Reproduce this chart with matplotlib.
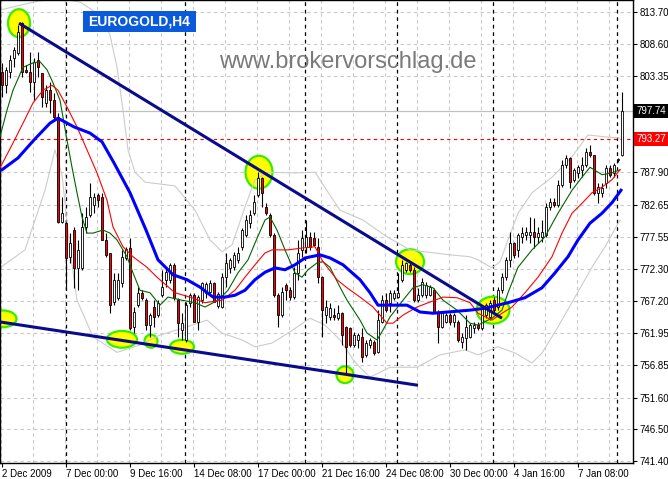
import matplotlib
matplotlib.use('Agg')
import matplotlib.pyplot as plt
from matplotlib.patches import Ellipse, Rectangle
from matplotlib.transforms import blended_transform_factory
import numpy as np

plt.rcParams['font.family'] = ['Liberation Sans', 'DejaVu Sans']

# ---------------- data (EUROGOLD H4 candles) ----------------
opens = [
804.0, 801.9, 804.0, 806.3, 807.1, 811.9, 804.4, 804.0, 802.4, 806.0,
803.9, 799.0, 801.1, 799.5, 796.8, 779.9, 779.7, 774.3, 778.6, 772.5,
772.5, 779.1, 781.0, 782.6, 784.2, 783.9, 777.0, 774.9, 767.0, 767.7,
770.1, 774.1, 775.7, 763.0, 766.5, 768.5, 767.3, 763.3, 766.2, 764.9,
768.1, 770.6, 770.6, 773.0, 767.3, 762.5, 760.9, 766.9, 768.1, 763.8,
767.3, 768.5, 768.6, 770.1, 766.4, 766.2, 771.0, 772.5, 772.6, 773.8,
775.9, 777.8, 779.7, 781.3, 784.2, 787.0, 782.3, 781.0, 777.8, 768.1,
764.9, 769.8, 768.9, 767.8, 771.7, 775.4, 775.9, 777.5, 777.3, 775.9,
771.0, 764.9, 764.6, 764.9, 764.4, 765.2, 763.0, 762.8, 760.1, 760.9,
761.4, 758.5, 760.1, 760.6, 758.9, 763.8, 767.3, 766.9, 767.7, 767.8,
770.6, 772.2, 773.0, 772.2, 767.3, 768.1, 768.1, 768.1, 768.9, 765.4,
763.0, 763.8, 764.9, 763.8, 763.8, 760.6, 761.2, 761.4, 762.8, 763.3,
762.8, 764.9, 764.6, 767.3, 766.2, 768.9, 771.0, 773.8, 776.5, 775.4,
777.5, 777.8, 777.8, 778.3, 777.5, 777.5, 777.8, 782.3, 783.1, 782.6,
785.8, 789.1, 790.2, 786.7, 787.8, 788.3, 789.1, 791.2, 790.7, 784.6,
784.6, 786.2, 788.6, 787.8, 789.9, 790.7]
highs = [
805.5, 804.8, 806.8, 808.1, 811.6, 812.1, 805.2, 807.3, 806.3, 807.3,
803.9, 801.9, 802.4, 800.7, 797.4, 783.9, 779.9, 778.1, 779.1, 777.0,
781.3, 782.3, 786.2, 784.6, 784.6, 784.6, 778.1, 774.9, 771.7, 771.7,
775.4, 775.9, 777.3, 766.2, 769.4, 768.9, 767.7, 765.2, 767.3, 767.3,
772.2, 772.6, 773.3, 773.3, 767.7, 765.2, 767.0, 768.5, 768.5, 768.1,
770.2, 770.2, 770.6, 770.2, 768.6, 771.7, 774.9, 774.1, 775.1, 775.9,
778.9, 781.0, 781.8, 784.2, 787.9, 787.1, 783.0, 781.3, 778.1, 768.5,
769.4, 770.1, 769.4, 772.6, 777.0, 778.6, 780.2, 778.3, 778.3, 777.3,
771.2, 767.3, 766.9, 766.0, 766.5, 765.4, 763.2, 763.0, 762.2, 762.0,
762.8, 760.9, 761.2, 760.9, 765.7, 768.1, 768.5, 768.9, 768.9, 771.7,
773.8, 773.5, 773.5, 772.6, 769.3, 770.9, 770.2, 769.8, 769.3, 765.7,
765.4, 765.2, 765.2, 765.2, 764.1, 762.0, 764.9, 763.6, 763.8, 763.8,
766.2, 766.9, 767.3, 767.8, 769.4, 771.7, 774.3, 778.3, 776.7, 778.1,
779.1, 779.1, 780.7, 780.5, 779.1, 780.2, 783.0, 783.8, 783.8, 786.7,
789.9, 790.7, 790.4, 788.6, 789.1, 790.4, 791.8, 792.3, 790.7, 786.2,
786.2, 789.1, 789.1, 789.4, 790.2, 800.8]
lows = [
800.0, 800.7, 803.1, 804.8, 806.8, 803.2, 803.9, 800.8, 799.5, 803.2,
798.4, 798.4, 797.4, 796.3, 779.7, 779.7, 769.4, 773.3, 769.3, 768.9,
772.2, 778.1, 780.7, 781.3, 782.3, 777.0, 774.3, 765.2, 766.6, 767.3,
769.4, 773.8, 762.5, 762.0, 766.2, 767.3, 762.5, 761.4, 763.0, 764.6,
767.8, 769.4, 770.1, 767.3, 761.4, 760.9, 760.6, 766.2, 763.8, 762.5,
766.9, 767.7, 768.5, 767.0, 766.0, 766.0, 769.4, 771.7, 772.2, 773.3,
775.4, 777.5, 778.9, 781.0, 783.9, 782.3, 781.0, 777.5, 767.8, 763.0,
764.6, 767.3, 767.3, 767.5, 770.6, 774.3, 774.9, 775.4, 776.0, 770.1,
761.4, 763.6, 764.1, 764.1, 764.1, 760.1, 755.6, 759.8, 759.8, 759.6,
757.3, 758.1, 759.6, 758.5, 758.8, 763.6, 765.4, 765.4, 767.3, 767.6,
770.2, 771.8, 771.8, 767.0, 767.0, 767.8, 767.7, 768.0, 765.2, 760.4,
762.8, 763.6, 763.3, 763.0, 760.6, 759.6, 759.3, 761.2, 762.0, 762.5,
762.5, 764.4, 764.1, 765.2, 765.7, 768.5, 770.6, 772.6, 774.1, 774.3,
776.5, 777.0, 776.5, 775.7, 776.5, 776.7, 777.5, 781.8, 782.3, 782.3,
785.5, 788.6, 785.4, 786.3, 787.0, 787.1, 788.7, 790.4, 784.2, 783.0,
783.9, 785.4, 787.1, 787.1, 789.5, 790.5]
closes = [
801.9, 804.4, 806.0, 807.6, 810.5, 804.0, 804.0, 802.4, 805.6, 804.8,
800.0, 801.1, 799.5, 796.8, 779.9, 781.3, 774.1, 776.5, 772.5, 775.4,
779.1, 780.7, 783.9, 783.9, 783.4, 777.0, 774.6, 766.5, 770.6, 770.6,
774.3, 775.5, 762.8, 765.4, 768.5, 767.7, 763.3, 764.9, 764.6, 766.9,
769.4, 771.8, 773.0, 767.7, 763.6, 763.6, 766.5, 768.1, 763.8, 767.8,
770.1, 769.9, 770.1, 767.0, 768.3, 771.0, 773.3, 773.8, 774.6, 774.9,
778.6, 780.2, 781.0, 783.1, 787.0, 784.6, 781.3, 777.8, 768.1, 764.9,
768.6, 768.9, 767.8, 771.7, 774.9, 777.3, 777.5, 775.9, 776.2, 771.0,
765.7, 766.2, 766.0, 764.6, 765.2, 761.7, 759.8, 760.1, 761.7, 761.7,
758.1, 760.4, 760.9, 758.8, 764.1, 767.3, 765.7, 768.5, 768.5, 768.5,
773.0, 773.3, 772.2, 767.3, 768.1, 770.2, 769.8, 769.4, 765.4, 763.0,
765.2, 764.9, 763.8, 764.9, 760.9, 761.4, 763.0, 763.3, 763.3, 762.8,
766.0, 766.5, 766.9, 765.7, 768.9, 771.0, 773.8, 776.5, 774.6, 777.8,
778.1, 778.3, 778.3, 777.5, 778.1, 778.3, 782.3, 783.1, 782.6, 785.8,
789.1, 790.2, 786.3, 788.3, 788.7, 789.1, 791.2, 790.7, 784.6, 785.5,
785.4, 788.6, 787.5, 789.1, 790.0, 797.74]

# indicator lines (bar index, price)
blue_x = [0, 4, 8, 12, 14, 18, 22, 25, 28, 32, 36, 39, 42.75, 46.25, 49.5, 52.75, 55.75,
          58.25, 60.75, 63.25, 65.75, 68.25, 70.75, 73.25, 75.75, 79.5, 82, 85.25, 89.5, 92,
          94, 101.25, 104.5, 107.75, 117, 120.75, 126.5, 130.75, 135, 138.25, 141.5, 144,
          147, 150, 152.5, 154.75]
blue_y = [788.3, 790.2, 793.1, 795.8, 796.6, 795.2, 794.2, 792.8, 789.4, 784.6, 778.6, 773.8,
          771.4, 770.6, 769.4, 767.8, 767.8, 768.1, 768.9, 770.6, 771.8, 772.5, 772.2, 773.0,
          774.1, 774.6, 774.1, 773.0, 770.6, 768.5, 766.5, 766.5, 765.4, 765.2, 765.7, 766.0,
          766.9, 767.7, 769.3, 771.7, 774.3, 777.0, 779.7, 781.3, 783.0, 785.0]
red_x = [-0.5, 2.75, 5.25, 7.75, 10.25, 12.5, 14, 16.25, 18.75, 21.25, 23.75, 26.25, 27.75,
         30.25, 32.75, 36.25, 38.75, 43.25, 47.5, 50.75, 55, 58.25, 60.75, 63.25, 65.75, 67.5,
         71.5, 75, 78.25, 80.25, 83.75, 86.25, 89.5, 92.75, 96.25, 97.75, 100.25, 103.75, 107,
         110.25, 113.75, 117, 119, 122.5, 125, 127.5, 130.75, 134, 137.5, 140, 142.5, 145,
         147.5, 150, 152.5, 154.5]
red_y = [788.6, 792.6, 795.8, 799.05, 801.1, 801.9, 801.1, 798.4, 795.2, 791.5, 787.8, 783.4,
         779.1, 775.9, 774.3, 772.6, 771.0, 768.5, 767.7, 766.9, 767.3, 768.9, 771.0, 773.0,
         774.9, 775.4, 775.4, 775.7, 775.9, 773.5, 770.6, 769.3, 767.8, 766.2, 763.6, 763.6,
         764.9, 766.2, 767.0, 767.8, 767.7, 766.9, 765.2, 764.1, 765.2, 766.2, 768.5, 771.0,
         774.3, 778.1, 781.3, 782.9, 784.6, 785.5, 786.7, 788.3]
green_x = [-0.5, 1.25, 2.75, 5.25, 7.75, 9.5, 11.25, 12.75, 14.5, 16.25, 17.5, 18.75, 20, 21.25,
           22.75, 25.25, 27, 28.75, 31.25, 32.75, 34.5, 37, 39.5, 41.5, 45, 48.25, 50.75, 54,
           56.5, 59, 61.5, 63.25, 65.75, 67, 68.75, 70.75, 73.25, 75, 76.5, 78.75, 80.25, 82,
           84.5, 86.25, 89.5, 91.25, 93.75, 95.25, 97, 100.25, 102.75, 105.25, 107.75, 110.25,
           113.75, 117, 119, 122.5, 125, 126.5, 129, 132.5, 135.75, 139, 142.5, 145, 147, 150,
           152.5, 154.5]
green_y = [793.6, 797.9, 801.1, 804.8, 805.5, 805.7, 804.4, 802.3, 799.5, 793.1, 788.7, 784.6,
           780.7, 778.1, 778.1, 778.6, 778.1, 777.0, 774.3, 771.7, 768.9, 768.5, 766.5, 767.8,
           767.3, 766.9, 766.2, 767.3, 768.9, 771.7, 773.8, 776.5, 780.2, 780.7, 778.6, 775.4,
           771.7, 771.0, 772.2, 773.3, 773.5, 772.6, 769.4, 767.3, 764.1, 762.0, 760.9, 762.5,
           764.6, 767.3, 769.3, 769.8, 769.3, 767.3, 765.7, 763.6, 763.3, 764.4, 765.7, 768.5,
           772.6, 775.4, 777.5, 781.3, 785.0, 787.1, 788.7, 787.5, 787.8, 788.3]
bbu_x = [-0.5, 4.5, 9.5, 14.5, 19.5, 24.5, 27, 28.75, 30.25, 31.5, 33.25, 35.75, 43.25, 48.25,
         52, 55, 57.5, 60.75, 63.25, 66.5, 73.25, 78.25, 82, 84.5, 90.25, 96.25, 102, 112,
         117, 119, 122.5, 124.5, 126.5, 129, 132.5, 137.5, 142.5, 146.5, 150.75, 154.5]
bbu_y = [814.0, 814.8, 815.5, 815.8, 815.3, 813.2, 810.0, 804.8, 797.9, 791.5, 787.9, 786.3,
         785.7, 781.8, 777.0, 775.1, 776.2, 782.3, 786.7, 787.9, 787.8, 787.9, 784.2, 781.8,
         780.2, 777.5, 775.4, 774.6, 774.3, 773.8, 772.5, 773.5, 777.0, 781.3, 784.6, 787.1,
         790.4, 793.9, 793.6, 793.4]
bbl_x = [-0.5, 5.75, 10.75, 13.25, 15, 17, 18.75, 22.75, 28.75, 34.5, 39.5, 46.25, 51.25, 55,
         60, 63.25, 67.5, 72, 77, 80.75, 84.5, 88.25, 92, 97, 103.75, 109.5, 115.75, 119, 124,
         128.25, 132.5, 135, 139, 143.25, 147.5, 150.75, 154.5]
bbl_y = [772.5, 775.4, 785.0, 791.5, 787.5, 775.4, 767.3, 761.4, 758.9, 760.1, 761.7, 763.0,
         764.1, 762.0, 760.9, 759.8, 760.4, 762.2, 764.4, 763.3, 760.9, 757.3, 754.9, 756.5,
         756.5, 758.5, 759.3, 758.5, 759.8, 758.8, 757.2, 758.8, 763.0, 767.8, 772.6, 775.9,
         780.2]

# trend lines (bar index, price)
upper_trend = [(4.25, 811.9), (125, 764.4)]
lower_trend = [(-0.5, 763.8), (104, 753.6)]
# marked spots: (bar, price, width in bars, height in price)
marks = [(4.25, 811.9, 5.5, 4.5), (0.25, 764.3, 6.75, 2.7), (30, 761.0, 7.5, 2.7),
         (37.25, 760.7, 3.25, 2.1), (45, 759.8, 6.0, 2.25), (64.25, 787.9, 6.75, 5.3),
         (85.75, 755.3, 4.25, 2.7), (102, 773.5, 7.0, 4.0), (122.75, 765.7, 8.25, 4.35)]

ytick_vals = [813.70, 808.60, 803.35, 787.90, 782.65, 777.55, 772.30, 767.20, 761.95,
              756.85, 751.60, 746.50, 741.40]
xtick_idx = [0, 16, 32, 48, 64, 80, 96, 112, 128, 144]
xtick_labels = ['2 Dec 2009', '7 Dec 00:00', '9 Dec 16:00', '14 Dec 08:00', '17 Dec 00:00',
                '21 Dec 16:00', '24 Dec 08:00', '30 Dec 00:00', '4 Jan 16:00', '7 Jan 08:00']
separators = [16, 45.75, 75.75, 98.75, 122.75, 153.75]
bid_price = 797.74
ask_price = 793.27

assert len(opens) == len(highs) == len(lows) == len(closes)

# ---------------- figure ----------------
fig = plt.figure(figsize=(6.68, 4.79), dpi=100)
fig.patch.set_facecolor('white')
ax = fig.add_axes([0, 16 / 479, 633 / 668, 463 / 479])
ax.set_xlim(-0.5, 157.75)
ax.set_ylim(741.09, 815.63)

dash = (0, (3, 3))
for p in ytick_vals:
    ax.axhline(p, color='#C8C8C8', lw=0.8, ls=dash, zorder=0.5)
for i in range(0, 160, 8):
    ax.axvline(i - 0.25, color='#C8C8C8', lw=0.8, ls=dash, zorder=0.5)
for s in separators:
    ax.axvline(s, color='black', lw=0.9, ls=dash, zorder=1)

for (cx, cy, w, h) in marks:
    ax.add_patch(Ellipse((cx, cy), w, h, facecolor='#FFFF00', edgecolor='#33EE00',
                         lw=1.6, zorder=1.5))

ax.plot(bbu_x, bbu_y, color='#CCCCCC', lw=0.8, zorder=2)
ax.plot(bbl_x, bbl_y, color='#CCCCCC', lw=0.8, zorder=2)

ax.axhline(bid_price, color='#C0C0C0', lw=0.9, zorder=2)
ax.axhline(ask_price, color='#FF0000', lw=0.8, ls=dash, zorder=2.2)

o = np.array(opens); h = np.array(highs); l = np.array(lows); c = np.array(closes)
idx = np.arange(len(o))
bull = c >= o
ax.vlines(idx, l, h, color='black', lw=0.8, zorder=3)
bottom = np.minimum(o, c)
height = np.maximum(np.abs(c - o), 0.12)
ax.bar(idx, height, 0.62, bottom, color=np.where(bull, 'white', '#FF0000'),
       edgecolor='black', linewidth=0.6, zorder=3.5)

ax.plot(green_x, green_y, color='#006400', lw=0.8, zorder=4)
ax.plot(red_x, red_y, color='#FF0000', lw=0.8, zorder=4)
ax.plot(blue_x, blue_y, color='#0000FF', lw=2.2, zorder=4.5)

for tl in (upper_trend, lower_trend):
    ax.plot([tl[0][0], tl[1][0]], [tl[0][1], tl[1][1]], color='#0A0A8C', lw=2.2,
            zorder=5, solid_capstyle='butt')

# axes styling
for sp in ax.spines.values():
    sp.set_color('black')
    sp.set_linewidth(1.0)
ax.yaxis.tick_right()
ax.set_yticks(ytick_vals)
ax.set_yticklabels([f'{v:.2f}' for v in ytick_vals])
ax.tick_params(axis='y', direction='out', length=3, width=0.8, pad=1.5, labelsize=7,
               colors='black')
ax.set_xticks(xtick_idx)
ax.set_xticklabels(xtick_labels, ha='left')
ax.tick_params(axis='x', direction='out', length=3, width=0.8, pad=1.5, labelsize=7,
               colors='black')

trans = blended_transform_factory(ax.transAxes, ax.transData)
ax.text(1.0 + 3 / 633, bid_price, f'{bid_price:.2f}', transform=trans, va='center',
        ha='left', fontsize=7, color='white', clip_on=False, zorder=10,
        bbox=dict(boxstyle='square,pad=0.2', fc='black', ec='none'))
ax.text(1.0 + 3 / 633, ask_price, f'{ask_price:.2f}', transform=trans, va='center',
        ha='left', fontsize=7, color='white', clip_on=False, zorder=10,
        bbox=dict(boxstyle='square,pad=0.2', fc='#FF0000', ec='none'))

# symbol box and watermark
ax.add_patch(Rectangle((83 / 633, 1 - 32 / 463), 113 / 633, 21 / 463,
                       transform=ax.transAxes, facecolor='#0A5ADC', edgecolor='none',
                       zorder=8))
ax.text(139.5 / 633, 1 - 21.5 / 463, 'EUROGOLD,H4', transform=ax.transAxes, ha='center',
        va='center', color='white', fontsize=10, fontweight='bold', zorder=9)
ax.text(348 / 633, 1 - 62 / 463, 'www.brokervorschlag.de', transform=ax.transAxes,
        ha='center', va='center', color='#7A7A7A', fontsize=17, zorder=9)

fig.savefig('out.png', dpi=100, facecolor='white')
